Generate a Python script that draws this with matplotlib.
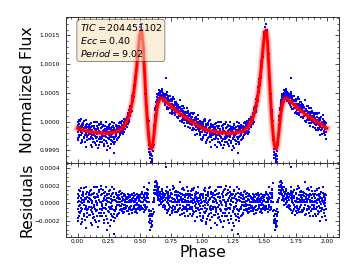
import numpy as np
import matplotlib.pyplot as plt
from matplotlib.ticker import AutoMinorLocator, MultipleLocator, FuncFormatter

# phase grid of the folded light curve (one cycle, shown twice)
phase = np.arange(200) * 0.005

# best-fit model, flux - 1 in ppm
model_ppm = [
    -115, -118, -122, -125, -128, -131, -135, -138, -142, -146,
    -150, -153, -156, -159, -162, -164, -167, -169, -171, -173,
    -175, -177, -179, -181, -183, -185, -186, -188, -189, -191,
    -192, -193, -194, -195, -196, -197, -198, -198, -199, -199,
    -200, -200, -200, -200, -200, -200, -199, -199, -198, -198,
    -197, -196, -195, -194, -193, -191, -190, -188, -186, -184,
    -181, -178, -175, -171, -167, -163, -158, -152, -146, -139,
    -131, -122, -112, -100, -87, -72, -56, -38, -18, 4,
    28, 55, 85, 118, 155, 196, 242, 293, 350, 413,
    483, 560, 645, 738, 840, 950, 1065, 1180, 1295, 1400,
    1490, 1552, 1580, 1565, 1495, 1370, 1195, 990, 775, 565,
    370, 195, 40, -100, -220, -320, -395, -445, -470, -472,
    -445, -385, -300, -200, -95, 5, 95, 175, 242, 295,
    336, 366, 386, 398, 403, 403, 399, 392, 384, 375,
    366, 357, 348, 339, 330, 321, 311, 301, 291, 281,
    271, 261, 251, 241, 231, 221, 212, 203, 194, 185,
    176, 167, 159, 151, 143, 135, 127, 119, 111, 103,
    95, 88, 81, 74, 67, 60, 53, 46, 39, 32,
    25, 18, 11, 4, -3, -10, -17, -23, -29, -35,
    -41, -48, -55, -62, -70, -78, -86, -94, -102, -110,
]

# residuals (data - model) in ppm, three observations per phase bin
resid1_ppm = [
    -60, 110, -150, 30, -20, 170, -90, 40, -180, 80, 10, -120, 60, -40, -286, 130, -70, 20, 90, -130,
    50, -40, 150, -100, 0, -170, 70, 120, -60, 30, -210, 190, -20, 80, -110, 40, -150, 160, 10, -80,
    100, -50, -190, 60, 130, -10, -140, 30, 90, -230, 20, 140, -70, -120, 50, -30, 180, -160, -350, 70,
    -90, 110, -40, 60, -130, 20, 90, -20, 50, -80, 100, -10, 30, -60, 80, -100, 40, 10, -50, 70,
    -30, 60, -70, 20, 90, -40, 10, -110, 50, 30, -60, 80, -20, 40, -90, 110, 0, -50, 60, -30,
    70, -40, 20, 130, -60, 10, 90, -20, 50, -80, 30, 60, 120, 150, 20, -150, -230, -180, -270, -120,
    -200, -60, 40, 120, 180, 240, 150, 210, 90, 170, 60, 130, 30, 100, 60, 140, 20, 90, -30, 70,
    40, -60, 410, 120, 20, 80, -90, 60, 150, -40, 30, 100, -110, 50, 10, 170, -70, 40, 90, -20,
    60, -80, 130, 10, -50, 240, 70, -120, 30, 90, -30, 150, -60, 40, 100, -90, 20, 60, -140, 80,
    -40, 110, 30, -70, 160, 0, 50, -100, 80, 20, -50, 130, -160, 60, 10, -80, 90, -30, 40, -190,
]
resid2_ppm = [
    20, -170, 80, -100, 140, -50, 60, -210, 0, 100, -140, 40, -70, 190, -30, -110, 70, -60, 120, 10,
    -130, 90, -80, 30, -250, 110, -40, -160, 60, 180, -90, 0, -140, 70, 130, -200, 20, -60, 90, -30,
    -70, 150, 40, -110, -50, 190, -20, -180, 60, -90, 110, -40, -260, 80, 0, -150, 30, 120, -80, -200,
    40, -70, 120, -150, 10, 80, -110, 60, -30, 140, -60, 30, -90, 50, -20, 110, -70, 80, -40, 20,
    50, -90, 30, 80, -60, 20, -30, 100, -80, 60, 10, -50, 90, -100, 40, -20, 70, -60, 30, 80,
    -50, 90, -30, 20, 100, -70, 40, 180, -20, 60, 110, -40, 80, 60, -90, -210, -140, -300, -90, -250,
    -150, 10, -100, 60, 200, 110, 250, 130, 190, 40, 150, -20, 80, 120, 0, 50, 110, -40, 60, 100,
    -50, 90, 140, -80, 60, 110, 0, -60, 80, 30, 120, -90, 60, -30, 200, 50, -100, 130, 10, 70,
    -100, 40, 90, -60, 120, -20, 50, 100, -80, 10, 170, -40, 70, -150, 30, 90, -20, 140, 20, -60,
    80, -120, 60, 20, -40, 150, -90, 40, 100, -200, 70, -10, 50, -60, 120, 30, -110, 60, 0, 90,
]
resid3_ppm = [
    -200, 60, -30, 150, -110, 20, -240, 90, -60, 130, -20, 170, -190, 50, 110, -80, -160, 30, -40, 60,
    140, -230, 40, -50, 100, -120, 180, -20, -190, 70, 20, -80, 110, -270, 40, 150, -60, -110, 200, -10,
    -150, 30, 120, -220, 80, -60, 40, 110, -300, 10, -100, 60, 150, -40, -190, 100, -70, 40, -120, 160,
    -170, 30, -60, 90, -20, -120, 50, 130, -80, 10, -30, 70, 120, -110, 40, -50, 90, -20, 60, -90,
    20, 100, -50, -120, 40, 70, -80, 30, 90, -60, 120, -30, 50, 10, -70, 60, -110, 90, -20, 40,
    30, -80, 110, -50, 60, 20, -100, 70, -40, 120, -60, 20, 160, 100, 230, -80, -190, -120, -230, -200,
    -260, -120, 10, 150, 120, 200, 180, 100, 230, 110, 80, 190, 50, 130, -10, 160, 70, 30, 120, -20,
    110, -30, 60, 180, -110, 40, 130, -20, 70, -130, 100, 20, -50, 160, -80, 10, 90, -40, 140, -100,
    130, 20, -90, 80, 40, -130, 100, 10, 160, -70, 50, -110, 90, 20, -40, 180, -60, 30, 110, -20,
    20, -60, 140, -150, 90, 40, -120, 170, -30, 60, 110, -90, 30, -50, 180, -10, 70, -140, 100, -70,
]

tic_id = '204451102'
ecc = 0.40
period = 9.02

model = 1 + np.array(model_ppm) * 1e-6
resids = [np.array(r) * 1e-6 for r in (resid1_ppm, resid2_ppm, resid3_ppm)]

fig = plt.figure(figsize=(3.57, 2.79), dpi=100)
ax1 = fig.add_axes([0.185, 0.416, 0.765, 0.523])
ax2 = fig.add_axes([0.185, 0.1505, 0.765, 0.2655], sharex=ax1)

xs = np.concatenate([phase, phase + 1])
for r in resids:
    ax1.scatter(xs, np.tile(model + r, 2), s=2.2, marker='s', lw=0, color='blue', zorder=2)
    ax2.scatter(xs, np.tile(r, 2), s=2.2, marker='s', lw=0, color='blue', zorder=2)

line_x = np.append(xs, 2.0)
line_y = np.append(np.tile(model, 2), model[0])
ax1.plot(line_x, line_y, color='red', lw=5.5, alpha=0.18, zorder=3)
ax1.plot(line_x, line_y, color='red', lw=3.4, alpha=0.3, zorder=3)
ax1.plot(line_x, line_y, color='red', lw=2.0, zorder=4)

txt = '$TIC = %s$\n$Ecc = %.2f$\n$Period = %.2f$' % (tic_id, ecc, period)
ax1.text(0.05, 0.965, txt, transform=ax1.transAxes, fontsize=6.8, va='top',
         bbox=dict(boxstyle='round', facecolor='wheat', alpha=0.5, lw=0.6), zorder=5)

ax1.set_xlim(-0.092, 2.1)
ax1.set_ylim(0.999283, 1.001818)
ax2.set_ylim(-0.000385, 0.00046)

ax1.yaxis.set_major_locator(MultipleLocator(0.0005))
ax2.yaxis.set_major_locator(MultipleLocator(0.0002))
ax2.xaxis.set_major_locator(MultipleLocator(0.25))
fmt4 = FuncFormatter(lambda v, p: ('%.4f' % v).replace('-', '\u2212'))
ax1.yaxis.set_major_formatter(fmt4)
ax2.yaxis.set_major_formatter(fmt4)
ax2.xaxis.set_major_formatter(FuncFormatter(lambda v, p: '%.2f' % v))

for ax in (ax1, ax2):
    ax.xaxis.set_minor_locator(AutoMinorLocator())
    ax.yaxis.set_minor_locator(AutoMinorLocator())
    ax.tick_params(which='both', direction='in', top=True, right=True, width=0.6, color='#333333')
    ax.tick_params(which='major', length=3, labelsize=4.2, pad=4.5)
    ax.tick_params(which='minor', length=1.6)
    for sp in ax.spines.values():
        sp.set_linewidth(0.7)
        sp.set_color('#333333')
ax1.tick_params(axis='x', labelbottom=False)
ax2.tick_params(axis='x', pad=1.5)

ax1.set_ylabel('Normalized Flux', fontsize=11.3)
ax2.set_ylabel('Residuals', fontsize=11.3)
ax1.yaxis.set_label_coords(-0.115, 0.5)
ax2.yaxis.set_label_coords(-0.115, 0.5)
ax2.set_xlabel('Phase', fontsize=11.3, labelpad=0.5)

fig.savefig('out.png', dpi=100)
